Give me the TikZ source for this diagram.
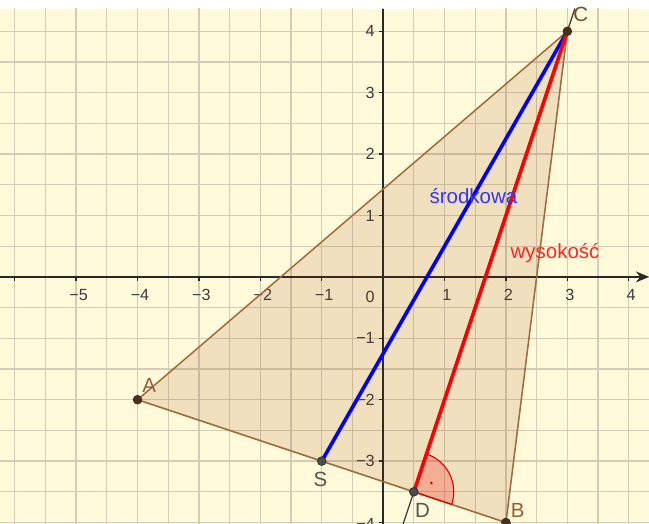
\documentclass[tikz,border=0pt]{standalone}
\usepackage{fontspec}
\setmainfont{Liberation Sans}
\usetikzlibrary{arrows.meta,calc}
\definecolor{bg}{RGB}{255,250,218}
\definecolor{gridc}{RGB}{212,204,180}
\definecolor{axisc}{RGB}{40,40,40}
\definecolor{triedge}{RGB}{160,105,60}
\definecolor{trifill}{RGB}{153,51,0}
\definecolor{ptbrown}{RGB}{80,45,20}
\definecolor{lblbrown}{RGB}{150,95,50}
\definecolor{lblgray}{RGB}{85,85,85}
\definecolor{tickc}{RGB}{60,60,60}
\tikzset{
  axisline/.style={axisc, line width=1.1pt},
  ticklbl/.style={font=\fontsize{7.5}{8}\selectfont, text=tickc, inner sep=0pt},
  ptlbl/.style={font=\fontsize{9.5}{10}\selectfont, inner sep=0pt},
  ptdot/.style={circle, inner sep=0pt, minimum size=4pt, draw=black!80, line width=0.4pt},
  thickline/.style={line width=1.7pt},
}
\begin{document}
\begin{tikzpicture}[x=1cm,y=1cm]
\useasboundingbox (-6.24,-4.01) rectangle (4.33,4.51);
\fill[white] (-6.24,-4.01) rectangle (4.33,4.51);
\begin{scope}
\clip (-6.24,-4.01) rectangle (4.33,4.365);
\fill[bg] (-6.24,-4.01) rectangle (4.33,4.365);
\draw[gridc, line width=0.6pt, step=0.5] (-6.5,-4.5) grid (4.5,4.5);
% axes
\coordinate (xl) at (-6.3,0);
\coordinate (xr) at (4.33,0);
\coordinate (yb) at (0,-4.1);
\coordinate (yt) at (0,4.365);
\draw[axisline, -{Stealth[length=6pt,width=5pt]}] (xl) -- (xr);
\draw[axisline] (yb) -- (yt);
\foreach \x in {-6,-5,-4,-3,-2,-1,1,2,3,4} {
  \draw[axisc, line width=0.6pt] (\x,0) -- (\x,-0.06);
}
\foreach \y in {-4,-3,-2,-1,1,2,3,4} {
  \draw[axisc, line width=0.6pt] (0,\y) -- (-0.06,\y);
}
\foreach \x in {-5,-4,-3,-2,-1,1,2,3,4} {
  \node[ticklbl] (xt\x) at (\x+0.04,-0.3) {\ifnum\x<0 −\number-\x\else\x\fi};
}
\foreach \y in {-3,-2,-1,1,2,3,4} {
  \node[ticklbl, anchor=east] (yt\y) at (-0.13,\y) {\ifnum\y<0 −\number-\y\else\y\fi};
}
\node[ticklbl, anchor=north east] (yt-4) at (-0.13,-3.93) {−4};
\node[ticklbl] (zero) at (-0.21,-0.32) {0};
% points
\coordinate (A) at (-4,-2);
\coordinate (B) at (2,-4);
\coordinate (C) at (3,4);
\coordinate (D) at (0.5,-3.5);
\coordinate (S) at (-1,-3);
% triangle
\fill[trifill, fill opacity=0.13] (A) -- (B) -- (C) -- cycle;
\draw[triedge, line width=0.7pt, line join=round] (A) -- (B) -- (C) -- cycle;
% altitude line extended
\coordinate (Lt) at (3.123,4.37);
\coordinate (Lb) at (0.3,-4.1);
\draw[black!75, line width=0.6pt] (Lb) -- (Lt);
% right angle marker
\fill[red, fill opacity=0.22] (D) -- ++(-18.43:0.65) arc[start angle=-18.43, end angle=71.57, radius=0.65] -- cycle;
\draw[red!85!black, line width=0.5pt] (D) -- ++(-18.43:0.65) arc[start angle=-18.43, end angle=71.57, radius=0.65] -- cycle;
\fill[red!85!black] ($(D)+(26.57:0.32)$) circle (0.025);
% median and altitude
\draw[blue, thickline] (S) -- (C);
\draw[red, thickline] (D) -- (C);
% texts
\node[font=\fontsize{9.5}{10}\selectfont, text=blue!80!white, inner sep=0pt] (tm) at (1.47,1.31) {środkowa};
\node[font=\fontsize{9.5}{10}\selectfont, text=red!85!white, inner sep=0pt] (ta) at (2.8,0.39) {wysokość};
% point dots
\node[ptdot, fill=ptbrown] (pA) at (A) {};
\node[ptdot, fill=ptbrown] (pB) at (B) {};
\node[ptdot, fill=ptbrown] (pC) at (C) {};
\node[ptdot, fill=black!70] (pD) at (D) {};
\node[ptdot, fill=black!70] (pS) at (S) {};
\node[ptlbl, text=lblbrown] (lA) at (-3.81,-1.77) {A};
\node[ptlbl, text=lblbrown] (lB) at (2.19,-3.81) {B};
\end{scope}
\node[ptlbl, text=lblbrown!80!black] (lC) at (3.22,4.27) {C};
\node[ptlbl, text=lblgray] (lD) at (0.64,-3.8) {D};
\node[ptlbl, text=lblgray] (lS) at (-1.02,-3.3) {S};
\end{tikzpicture}
\end{document}
